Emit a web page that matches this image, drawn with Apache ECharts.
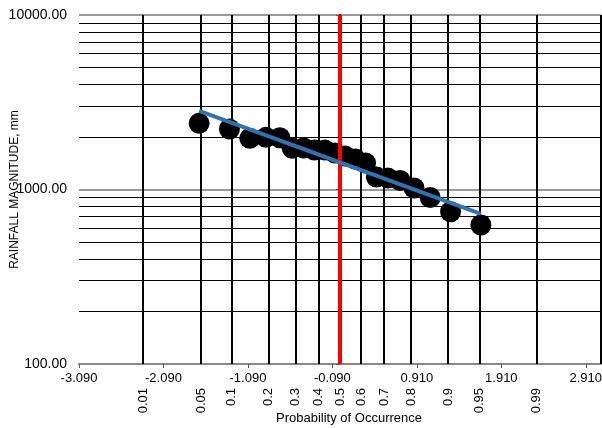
<!DOCTYPE html>
<html>
<head>
<meta charset="utf-8">
<script src="https://cdn.jsdelivr.net/npm/echarts@6/dist/echarts.min.js"></script>
<style>html,body{margin:0;padding:0;background:#fff;}#c{width:602px;height:428px;}</style>
</head>
<body>
<div id="c"></div>
<script>
// ---- data ----
const probLabels = ['0.01','0.05','0.1','0.2','0.3','0.4','0.5','0.6','0.7','0.8','0.9','0.95','0.99'];
const probZ = [-2.326,-1.645,-1.282,-0.842,-0.524,-0.253,0,0.253,0.524,0.842,1.282,1.645,2.326];
const xTickValues = [-3.09,-2.09,-1.09,-0.09,0.91,1.91,2.91];
const yMajor = [100,1000,10000];
const yMinor = [200,300,400,500,600,700,800,900,2000,3000,4000,5000,6000,7000,8000,9000];
const pointZ = [-1.668,-1.309,-1.068,-0.876,-0.712,-0.566,-0.431,-0.303,-0.180,-0.060,0.060,0.180,0.303,0.431,0.566,0.712,0.876,1.068,1.309,1.668];
const rainfall = [2395,2222,1965,1991,1980,1722,1730,1684,1684,1619,1556,1495,1419,1179,1164,1126,1020,900,746,626];
const fitZ = [-1.668,1.668];
const fitValues = [2818,724];
const medianZ = 0;

const FONT = 'Liberation Sans, Arial, sans-serif';
const chart = echarts.init(document.getElementById('c'));

const vLines = probZ.filter(z => z !== medianZ).map(z => ({xAxis: z}));
vLines.push({xAxis: 3.09});
const hLines = yMinor.map(v => ({yAxis: v}));

chart.setOption({
  animation: false,
  backgroundColor: '#fff',
  grid: {left: 79, right: 1, top: 15, bottom: 64, containLabel: false, outerBoundsMode: 'none'},
  xAxis: [{
    type: 'value', min: -3.09, max: 3.09,
    axisLine: {show: true, onZero: false, lineStyle: {color: '#888', width: 2}},
    axisTick: {show: true, length: 4, customValues: xTickValues, lineStyle: {color: '#555'}},
    axisLabel: {customValues: xTickValues, color: '#000', fontSize: 13, fontFamily: FONT, margin: 8,
      formatter: v => v.toFixed(3)},
    splitLine: {show: false},
    name: 'Probability of Occurrence', nameLocation: 'middle', nameGap: 48, nameMoveOverlap: false,
    nameTextStyle: {color: '#000', fontSize: 13, fontFamily: FONT, padding: [0,0,0,18]}
  }, {
    type: 'value', min: -3.09, max: 3.09, position: 'bottom', offset: 16,
    axisLine: {show: false}, axisTick: {show: false}, splitLine: {show: false},
    axisLabel: {customValues: probZ, rotate: 90, color: '#000', fontSize: 13, fontFamily: FONT, margin: 8,
      hideOverlap: false,
      formatter: v => { const i = probZ.findIndex(z => Math.abs(z - v) < 1e-6); return i >= 0 ? probLabels[i] : ''; }}
  }],
  yAxis: {
    type: 'log', logBase: 10, min: 100, max: 10000,
    axisLine: {show: true, lineStyle: {color: '#000', width: 2}},
    axisTick: {show: true, length: 4, lineStyle: {color: '#555'}},
    axisLabel: {color: '#000', fontSize: 14, fontFamily: FONT, margin: 12, formatter: v => Number(v).toFixed(2)},
    splitLine: {show: true, lineStyle: {color: '#777', width: 1.5}},
    name: 'RAINFALL MAGNITUDE, mm', nameLocation: 'middle', nameGap: 58, nameMoveOverlap: false,
    nameTextStyle: {color: '#000', fontSize: 12, fontFamily: FONT}
  },
  series: [{
    type: 'line', data: [], z: 1, silent: true,
    markLine: {silent: true, symbol: 'none', z: 1, animation: false,
      label: {show: false}, emphasis: {disabled: true},
      lineStyle: {color: '#000', width: 1, type: 'solid'},
      data: hLines}
  }, {
    type: 'line', data: [], z: 1, silent: true,
    markLine: {silent: true, symbol: 'none', z: 1, animation: false,
      label: {show: false}, emphasis: {disabled: true},
      lineStyle: {color: '#000', width: 2, type: 'solid'},
      data: vLines}
  }, {
    type: 'scatter', z: 2, symbol: 'circle', symbolSize: 21,
    itemStyle: {color: '#000', opacity: 1},
    data: pointZ.map((z, i) => [z, rainfall[i]])
  }, {
    type: 'line', data: [], z: 3, silent: true,
    markLine: {silent: true, symbol: 'none', z: 3, animation: false,
      label: {show: false}, emphasis: {disabled: true},
      lineStyle: {color: '#ff0000', width: 4, type: 'solid'},
      data: [{xAxis: medianZ}]}
  }, {
    type: 'line', z: 4, symbol: 'none', silent: true,
    lineStyle: {color: '#2E74B5', width: 4},
    data: fitZ.map((z, i) => [z, fitValues[i]])
  }]
});
</script>
</body>
</html>
